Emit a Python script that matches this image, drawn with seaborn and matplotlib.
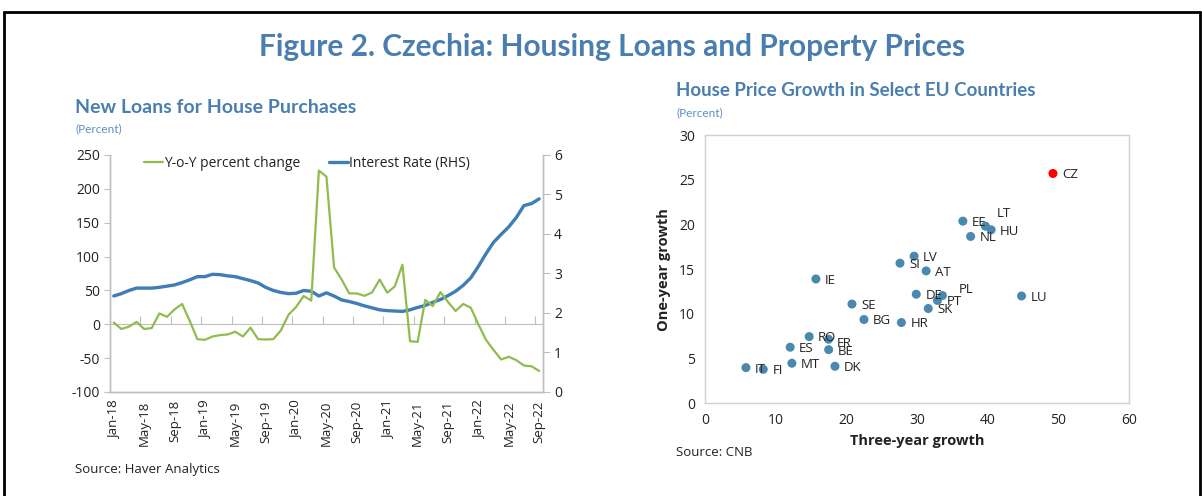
import numpy as np
import pandas as pd
import matplotlib
matplotlib.use("Agg")
import matplotlib.pyplot as plt
import seaborn as sns
from matplotlib.lines import Line2D

# --- data: new loans for house purchases (monthly, Jan-18 .. Sep-22)
months = pd.date_range("2018-01-01", periods=57, freq="MS")
yoy_change = [2.5, -7, -3.5, 3.5, -7, -5.5, 16, 11, 22, 30,
              5, -22, -23, -18, -16, -15, -11, -18, -5, -22,
              -22.5, -22, -9, 14, 25.5, 41.7, 35, 227, 218, 84,
              66, 45.6, 45.6, 42, 47, 66, 46.6, 56, 88, -25,
              -26, 36, 27, 47.5, 33, 19.6, 30, 24.5, 0, -23,
              -38, -52, -48, -53, -61, -62, -69]
interest_rate = [2.43, 2.49, 2.57, 2.63, 2.63, 2.63, 2.65, 2.68, 2.71, 2.77,
                 2.84, 2.92, 2.92, 2.98, 2.97, 2.94, 2.92, 2.87, 2.82, 2.76,
                 2.65, 2.57, 2.52, 2.49, 2.50, 2.57, 2.55, 2.43, 2.51, 2.43,
                 2.33, 2.29, 2.24, 2.18, 2.13, 2.08, 2.06, 2.05, 2.04, 2.08,
                 2.14, 2.19, 2.27, 2.34, 2.44, 2.55, 2.70, 2.89, 3.18, 3.50,
                 3.79, 3.99, 4.18, 4.42, 4.72, 4.77, 4.89]

# --- data: house price growth in EU countries
countries = ["CZ", "EE", "LT", "HU", "NL", "LV", "SI", "AT", "IE", "DE",
             "PL", "PT", "LU", "SE", "SK", "BG", "HR", "RO", "FR", "ES",
             "BE", "MT", "IT", "FI", "DK"]
three_year = [49.25, 36.5, 39.7, 40.5, 37.6, 29.6, 27.6, 31.3, 15.7, 29.9,
              33.6, 32.9, 44.8, 20.8, 31.6, 22.5, 27.8, 14.75, 17.5, 12.06,
              17.5, 12.3, 5.8, 8.25, 18.4]
one_year = [25.7, 20.37, 19.8, 19.4, 18.66, 16.45, 15.67, 14.8, 13.9, 12.2,
            12.05, 11.5, 12.0, 11.1, 10.6, 9.37, 9.03, 7.46, 7.16, 6.27,
            6.0, 4.48, 3.99, 3.8, 4.14]

loans = pd.DataFrame({"idx": np.arange(len(months)), "yoy": yoy_change, "rate": interest_rate})
prices = pd.DataFrame({"country": countries, "three": three_year, "one": one_year})
prices["group"] = np.where(prices["country"] == "CZ", "CZ", "other")

sns.set_style("white")
plt.rcParams["font.family"] = ["Open Sans", "DejaVu Sans"]
plt.rcParams["axes.unicode_minus"] = False

TITLE_BLUE = "#4a7eb0"
GREEN = "#8fbc4f"
BLUE = "#3f7db6"
GREY = "#bfbfbf"
TXT = "#222222"
HEAD = ["Lato", "DejaVu Sans"]

fig = plt.figure(figsize=(12.02, 4.96), dpi=100)

# frame around the figure
for xs, ys in [([0.003, 0.998], [0.976, 0.976]), ([0.003, 0.003], [0.0, 0.976]), ([0.998, 0.998], [0.0, 0.976])]:
    fig.add_artist(Line2D(xs, ys, transform=fig.transFigure, color="black", lw=2))

fig.text(0.509, 1 - 47 / 496, "Figure 2. Czechia: Housing Loans and Property Prices", ha="center", va="center",
         fontsize=21.5, fontweight="bold", color=TITLE_BLUE, family=HEAD)

# ---------------- left chart
ax = fig.add_axes([0.0915, 0.2097, 0.3602, 0.4778])
ax2 = ax.twinx()
sns.lineplot(data=loans, x="idx", y="yoy", ax=ax, color=GREEN, lw=1.6, label="Y-o-Y percent change", legend=False)
sns.lineplot(data=loans, x="idx", y="rate", ax=ax2, color=BLUE, lw=2.4, label="Interest Rate (RHS)", legend=False)
ax.set_zorder(ax2.get_zorder() + 1)
ax.patch.set_visible(False)

ax.set_xlim(-0.5, len(months) - 0.5)
ax.set_ylim(-100, 250)
ax.set_yticks(range(-100, 251, 50))
ax2.set_ylim(0, 6)
ax2.set_yticks(range(0, 7))
ax.set_xticks(range(0, len(months), 4))
ax.set_xticklabels([d.strftime("%b-%y") for d in months[::4]], rotation=90)
ax.set_xlabel("")
ax.set_ylabel("")
ax2.set_ylabel("")
for a in (ax, ax2):
    for s in a.spines.values():
        s.set_color(GREY)
        s.set_linewidth(1)
    a.spines["top"].set_visible(False)
ax.tick_params(axis="x", length=0, pad=6, labelsize=9.5, labelcolor=TXT)
ax.tick_params(axis="y", length=4, color=GREY, labelsize=10, labelcolor=TXT, pad=3)
ax2.tick_params(axis="y", length=5, color=GREY, labelsize=10, labelcolor=TXT, pad=3)

zero = ax.secondary_xaxis(100 / 350)
zero.set_xticks(np.arange(-0.5, len(months), 4))
zero.tick_params(axis="x", direction="in", length=6, color=GREY, labelbottom=False)
zero.spines["bottom"].set_color(GREY)

h1, l1 = ax.get_legend_handles_labels()
h2, l2 = ax2.get_legend_handles_labels()
ax.legend(h1 + h2, l1 + l2, loc="center", bbox_to_anchor=(0.455, 0.965), ncol=2, frameon=False,
          fontsize=10, handlelength=1.4, handletextpad=0.1, columnspacing=2.0, labelcolor=TXT)

fig.text(0.0624, 1 - 113 / 496, "New Loans for House Purchases", ha="left", va="baseline",
         fontsize=14, fontweight="bold", color=TITLE_BLUE, family=HEAD)
fig.text(0.0624, 1 - 129 / 496, "(Percent)", ha="left", va="center", fontsize=8.5,
         color="#5a8fc8", family=HEAD)
fig.text(0.0624, 1 - 470 / 496, "Source: Haver Analytics", ha="left", va="center", fontsize=9.5, color=TXT)

# ---------------- right chart
bx = fig.add_axes([0.5865, 0.1869, 0.3527, 0.5409])
sns.scatterplot(data=prices, x="three", y="one", hue="group", palette={"CZ": "#ff0000", "other": "#4a89af"},
                s=42, linewidth=0, ax=bx, legend=False)
offsets = {"LT": (8, 9), "PL": (12, 4), "FR": (6, -3)}
for c, xv, yv in zip(countries, three_year, one_year):
    dx, dy = offsets.get(c, (6.5, -1))
    bx.annotate(c, (xv, yv), xytext=(dx, dy), textcoords="offset points", ha="left", va="center",
                fontsize=9.5, color=TXT)
bx.set_xlim(0, 60)
bx.set_ylim(0, 30)
bx.set_xticks(range(0, 61, 10))
bx.set_yticks(range(0, 31, 5))
for s in bx.spines.values():
    s.set_color("#d0d0d0")
    s.set_linewidth(1)
bx.tick_params(length=4, color=GREY, labelsize=10, labelcolor=TXT, pad=3)
bx.set_xlabel("Three-year growth", fontsize=10.5, fontweight="bold", color=TXT, labelpad=4)
bx.set_ylabel("One-year growth", fontsize=10.5, fontweight="bold", color=TXT, labelpad=6)

fig.text(0.5624, 1 - 96 / 496, "House Price Growth in Select EU Countries", ha="left", va="baseline",
         fontsize=13.5, fontweight="bold", color=TITLE_BLUE, family=HEAD)
fig.text(0.5624, 1 - 113 / 496, "(Percent)", ha="left", va="center", fontsize=8.5,
         color="#5a8fc8", family=HEAD)
fig.text(0.5624, 1 - 452 / 496, "Source: CNB", ha="left", va="center", fontsize=9.5, color=TXT)

fig.savefig("out.png", dpi=100)
